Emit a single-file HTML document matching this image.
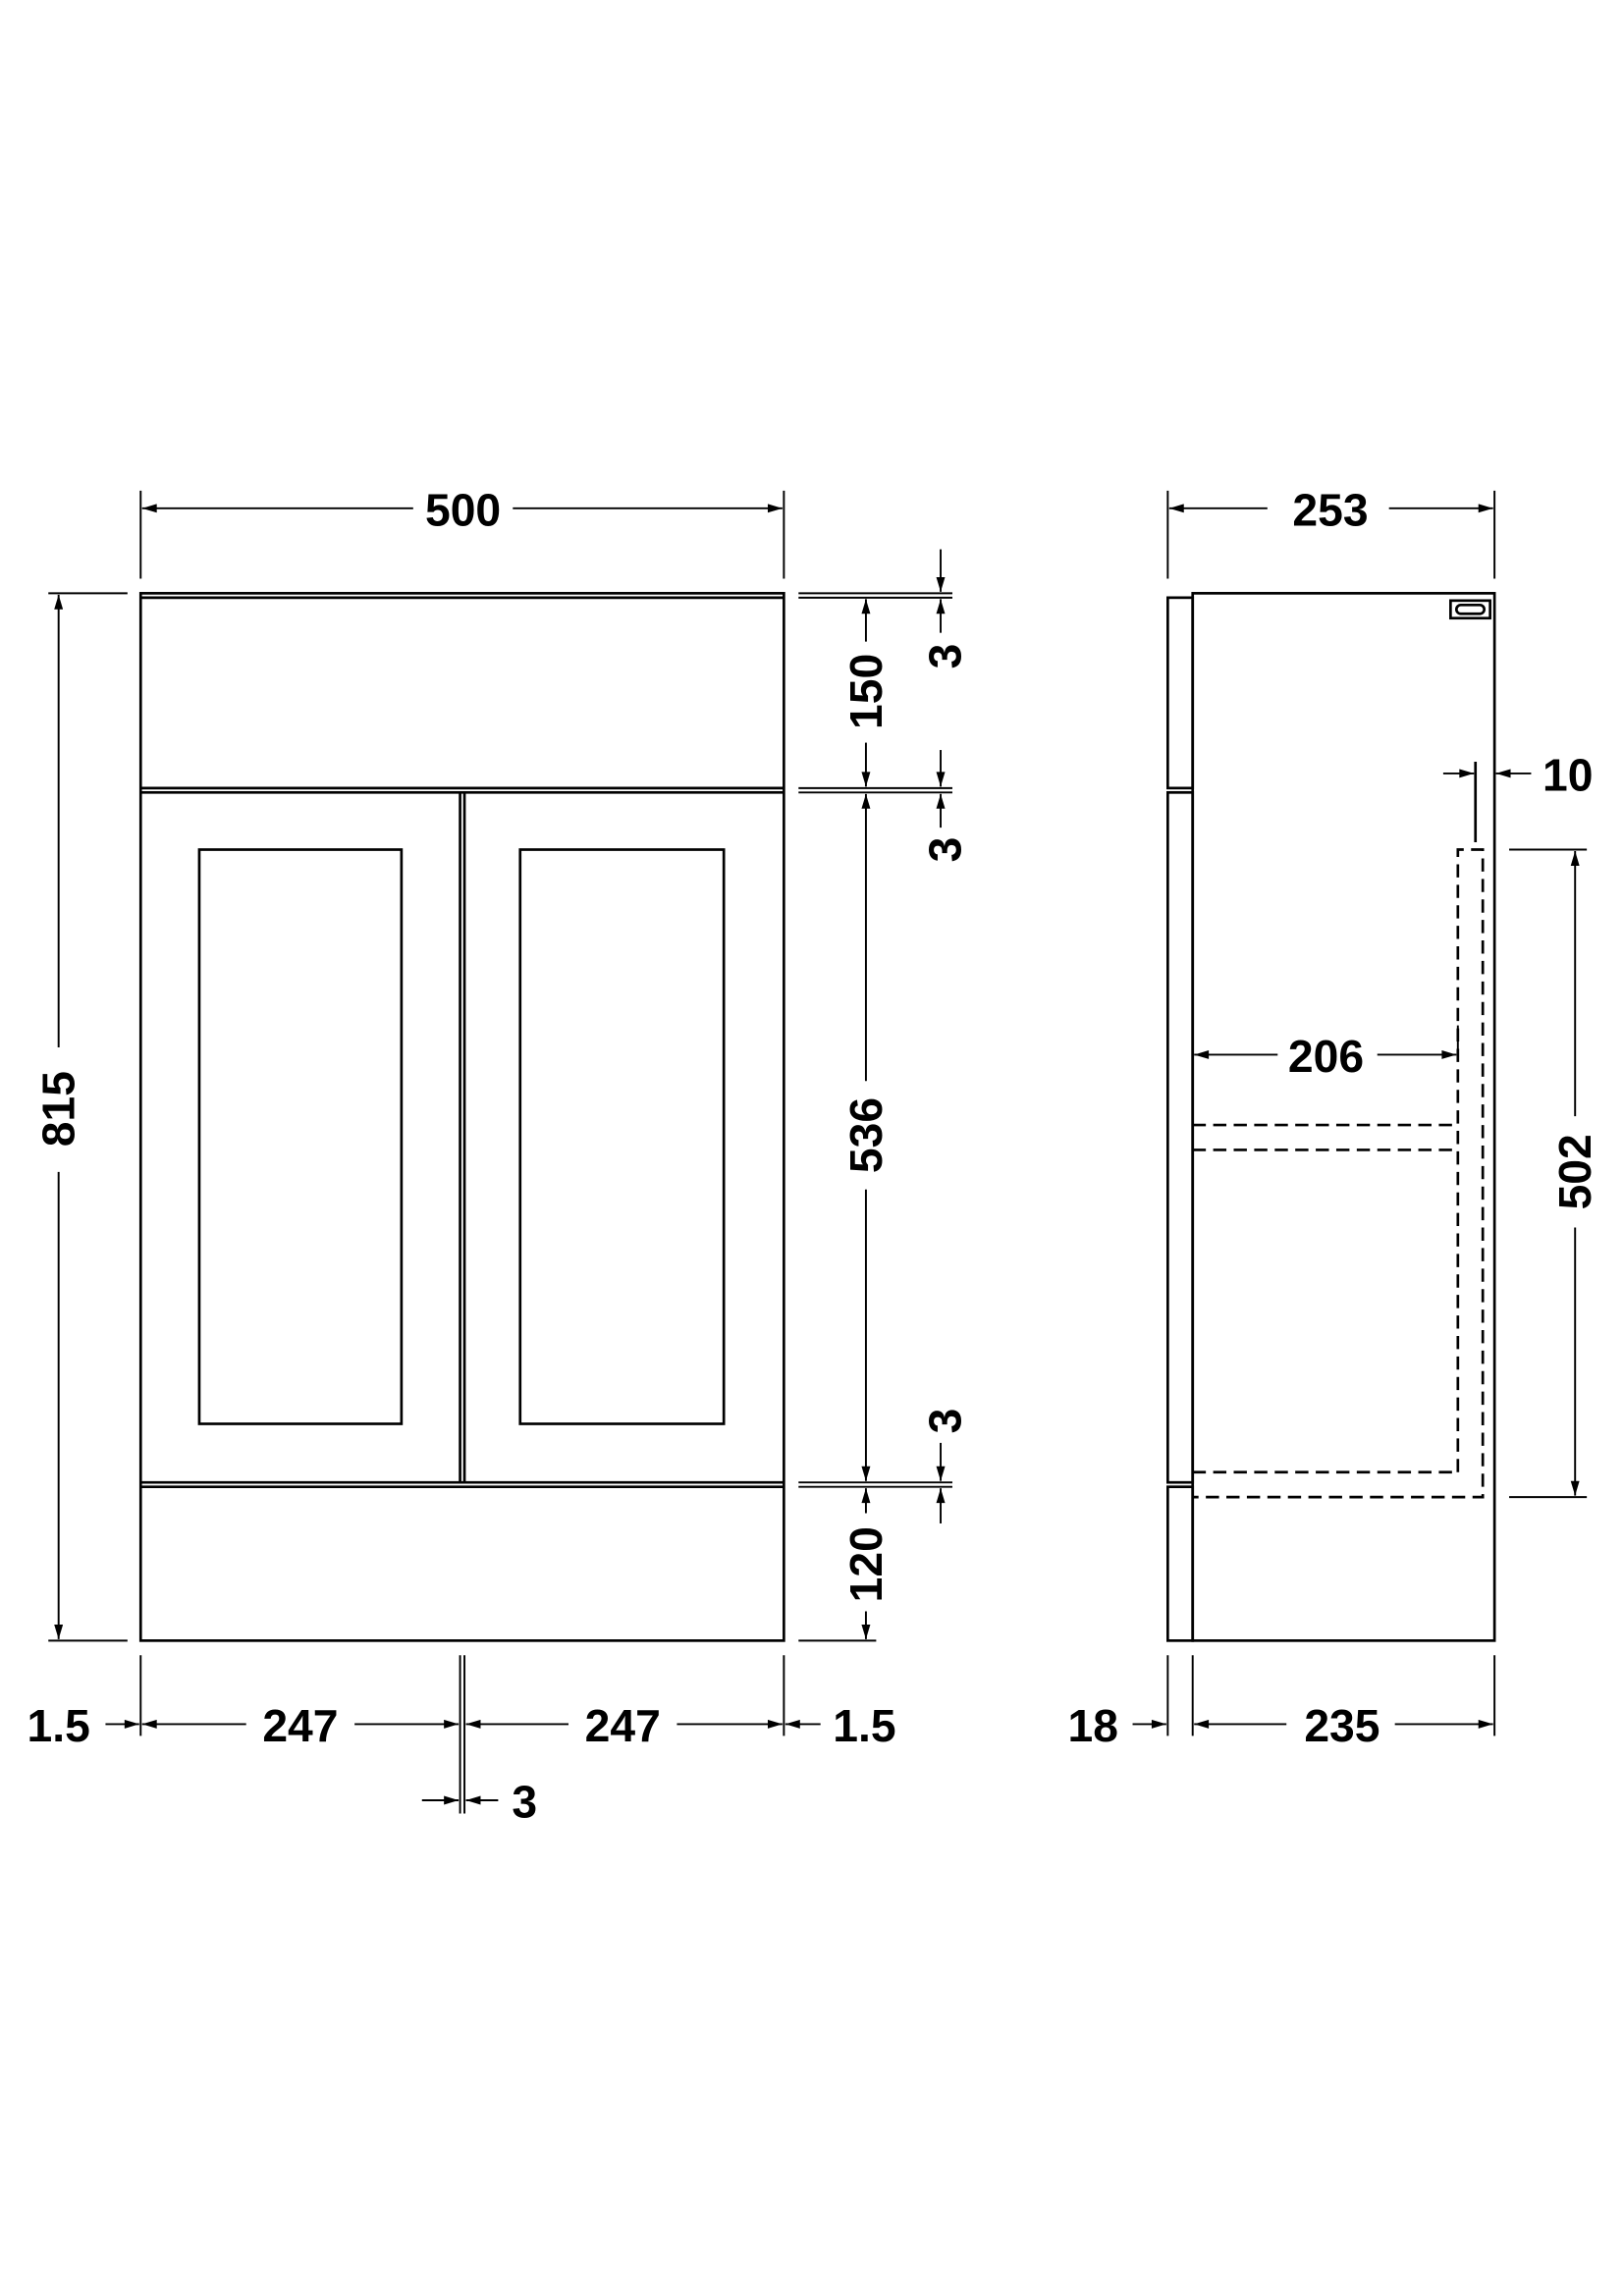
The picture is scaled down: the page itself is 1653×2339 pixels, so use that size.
<!DOCTYPE html>
<html><head><meta charset="utf-8"><style>html,body{margin:0;padding:0;background:#fff}svg{display:block}</style></head>
<body>
<svg width="1653" height="2339" viewBox="0 0 1107.7 1567.4" preserveAspectRatio="none" xmlns="http://www.w3.org/2000/svg">
<defs>
<marker id="a" viewBox="0 0 10 6" refX="10" refY="3" markerWidth="11" markerHeight="6" markerUnits="userSpaceOnUse" orient="auto-start-reverse"><path d="M0,0 L10,3 L0,6 z" fill="#000"/></marker>
</defs>
<g fill="none" stroke="#000" stroke-width="1.8">
<rect x="96" y="405" width="439" height="715"/>
<line x1="96" y1="408" x2="535" y2="408"/>
<line x1="96" y1="538" x2="535" y2="538"/>
<line x1="96" y1="541" x2="535" y2="541"/>
<line x1="96" y1="1012" x2="535" y2="1012"/>
<line x1="96" y1="1015" x2="535" y2="1015"/>
<line x1="314" y1="541" x2="314" y2="1012"/>
<line x1="317" y1="541" x2="317" y2="1012"/>
<rect x="136" y="580" width="138" height="392"/>
<rect x="355" y="580" width="139" height="392"/>
</g>
<g fill="none" stroke="#000" stroke-width="1.3">
<line x1="96" y1="335" x2="96" y2="395"/><line x1="535" y1="335" x2="535" y2="395"/>
<line x1="282" y1="347" x2="97" y2="347" marker-end="url(#a)"/>
<line x1="350" y1="347" x2="534" y2="347" marker-end="url(#a)"/>
<line x1="33" y1="405" x2="87" y2="405"/><line x1="33" y1="1120" x2="87" y2="1120"/>
<line x1="40" y1="715" x2="40" y2="406" marker-end="url(#a)"/>
<line x1="40" y1="800" x2="40" y2="1119" marker-end="url(#a)"/>
<line x1="545" y1="405" x2="650" y2="405"/><line x1="545" y1="408" x2="650" y2="408"/>
<line x1="545" y1="538" x2="650" y2="538"/><line x1="545" y1="541" x2="650" y2="541"/>
<line x1="545" y1="1012" x2="650" y2="1012"/><line x1="545" y1="1015" x2="650" y2="1015"/>
<line x1="545" y1="1120" x2="598" y2="1120"/>
<line x1="591" y1="438" x2="591" y2="409" marker-end="url(#a)"/>
<line x1="591" y1="507" x2="591" y2="537" marker-end="url(#a)"/>
<line x1="591" y1="738" x2="591" y2="542" marker-end="url(#a)"/>
<line x1="591" y1="812" x2="591" y2="1011" marker-end="url(#a)"/>
<line x1="591" y1="1033" x2="591" y2="1016" marker-end="url(#a)"/>
<line x1="591" y1="1100" x2="591" y2="1119" marker-end="url(#a)"/>
<line x1="642" y1="375" x2="642" y2="404" marker-end="url(#a)"/>
<line x1="642" y1="432" x2="642" y2="409" marker-end="url(#a)"/>
<line x1="642" y1="512" x2="642" y2="537" marker-end="url(#a)"/>
<line x1="642" y1="565" x2="642" y2="542" marker-end="url(#a)"/>
<line x1="642" y1="985" x2="642" y2="1011" marker-end="url(#a)"/>
<line x1="642" y1="1040" x2="642" y2="1016" marker-end="url(#a)"/>
<line x1="96" y1="1130" x2="96" y2="1185"/><line x1="535" y1="1130" x2="535" y2="1185"/>
<line x1="314" y1="1130" x2="314" y2="1238"/><line x1="317" y1="1130" x2="317" y2="1238"/>
<line x1="72" y1="1177" x2="95" y2="1177" marker-end="url(#a)"/>
<line x1="168" y1="1177" x2="97" y2="1177" marker-end="url(#a)"/>
<line x1="242" y1="1177" x2="313" y2="1177" marker-end="url(#a)"/>
<line x1="388" y1="1177" x2="318" y2="1177" marker-end="url(#a)"/>
<line x1="462" y1="1177" x2="534" y2="1177" marker-end="url(#a)"/>
<line x1="560" y1="1177" x2="536" y2="1177" marker-end="url(#a)"/>
<line x1="288" y1="1229" x2="313" y2="1229" marker-end="url(#a)"/>
<line x1="340" y1="1229" x2="318" y2="1229" marker-end="url(#a)"/>
</g>
<g fill="none" stroke="#000" stroke-width="1.8">
<rect x="814" y="405" width="206" height="715"/>
<rect x="797" y="408" width="17" height="130"/>
<rect x="797" y="541" width="17" height="471"/>
<rect x="797" y="1015" width="17" height="105"/>
<rect x="990" y="410" width="27" height="12"/>
<rect x="994" y="413" width="19" height="6" rx="3"/>
<line x1="1007" y1="520" x2="1007" y2="575"/>
</g>
<g fill="none" stroke="#000" stroke-width="1.8" stroke-dasharray="9,5">
<path d="M995,1005 V580 H1012 V1022 H814"/>
<line x1="814" y1="1005" x2="995" y2="1005"/>
<line x1="814" y1="768" x2="995" y2="768"/>
<line x1="814" y1="785" x2="995" y2="785"/>
</g>
<g fill="none" stroke="#000" stroke-width="1.3">
<line x1="797" y1="335" x2="797" y2="395"/><line x1="1020" y1="335" x2="1020" y2="395"/>
<line x1="865" y1="347" x2="798" y2="347" marker-end="url(#a)"/>
<line x1="948" y1="347" x2="1019" y2="347" marker-end="url(#a)"/>
<line x1="985" y1="528" x2="1006" y2="528" marker-end="url(#a)"/>
<line x1="1045" y1="528" x2="1021" y2="528" marker-end="url(#a)"/>
<line x1="872" y1="720" x2="815" y2="720" marker-end="url(#a)"/>
<line x1="940" y1="720" x2="994" y2="720" marker-end="url(#a)"/>
<line x1="995" y1="720" x2="995" y2="700"/>
<line x1="1030" y1="580" x2="1083" y2="580"/><line x1="1030" y1="1022" x2="1083" y2="1022"/>
<line x1="1075" y1="762" x2="1075" y2="581" marker-end="url(#a)"/>
<line x1="1075" y1="838" x2="1075" y2="1021" marker-end="url(#a)"/>
<line x1="797" y1="1130" x2="797" y2="1185"/><line x1="814" y1="1130" x2="814" y2="1185"/><line x1="1020" y1="1130" x2="1020" y2="1185"/>
<line x1="773" y1="1177" x2="796" y2="1177" marker-end="url(#a)"/>
<line x1="878" y1="1177" x2="815" y2="1177" marker-end="url(#a)"/>
<line x1="952" y1="1177" x2="1019" y2="1177" marker-end="url(#a)"/>
</g>
<g font-family="Liberation Sans, sans-serif" font-weight="bold" font-size="31" text-anchor="middle" dominant-baseline="central" fill="#000">
<text x="316" y="348">500</text>
<text x="908" y="348">253</text>
<text x="40" y="757" transform="rotate(-90 40 757)">815</text>
<text x="591" y="472" transform="rotate(-90 591 472)">150</text>
<text x="591" y="775" transform="rotate(-90 591 775)">536</text>
<text x="591" y="1068" transform="rotate(-90 591 1068)">120</text>
<text x="645" y="448" transform="rotate(-90 645 448)">3</text>
<text x="645" y="580" transform="rotate(-90 645 580)">3</text>
<text x="645" y="970" transform="rotate(-90 645 970)">3</text>
<text x="1075" y="800" transform="rotate(-90 1075 800)">502</text>
<text x="1070" y="529">10</text>
<text x="905" y="721">206</text>
<text x="40" y="1178">1.5</text>
<text x="205" y="1178">247</text>
<text x="425" y="1178">247</text>
<text x="590" y="1178">1.5</text>
<text x="358" y="1230">3</text>
<text x="746" y="1178">18</text>
<text x="916" y="1178">235</text>
</g>
</svg>
</body></html>
